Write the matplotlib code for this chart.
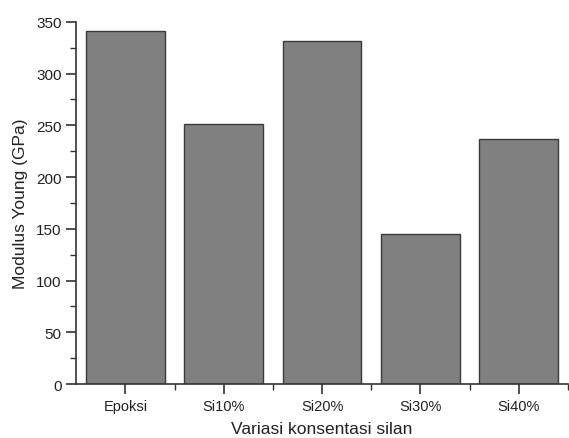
import matplotlib
matplotlib.use("Agg")
import matplotlib.pyplot as plt
from matplotlib.ticker import MultipleLocator, FixedLocator

plt.rcParams['font.family'] = ['Liberation Sans', 'DejaVu Sans']

# data
categories = ["Epoksi", "Si10%", "Si20%", "Si30%", "Si40%"]
modulus = [341, 251, 331, 145, 237]

fig = plt.figure(figsize=(5.69, 4.39), dpi=100)
ax = fig.add_axes([0.134, 0.123, 0.864, 0.825])

x = range(len(categories))
ax.bar(x, modulus, width=0.8, color="#808080", edgecolor="#3a3a3a", linewidth=1.0)

ax.set_xlim(-0.5, len(categories) - 0.5)
ax.set_ylim(0, 350)
ax.set_xticks(list(x))
ax.set_xticklabels(categories)
ax.xaxis.set_minor_locator(FixedLocator([i + 0.5 for i in range(len(categories))]))
ax.yaxis.set_major_locator(MultipleLocator(50))
ax.yaxis.set_minor_locator(MultipleLocator(25))

for side in ("top", "right"):
    ax.spines[side].set_visible(False)
for side in ("left", "bottom"):
    ax.spines[side].set_color("#333333")
    ax.spines[side].set_linewidth(1.2)

ax.tick_params(which="major", direction="out", length=7, width=1.2, color="#333333",
               labelsize=11, labelcolor="#222222")
ax.tick_params(axis="x", which="major", labelsize=10.5)
ax.tick_params(which="minor", direction="out", length=4, width=1.0, color="#333333")

ax.set_xlabel("Variasi konsentasi silan", fontsize=12.5, color="#222222", labelpad=6)
ax.set_ylabel("Modulus Young (GPa)", fontsize=12.5, color="#222222", labelpad=6)

fig.savefig("out.png", dpi=100)
